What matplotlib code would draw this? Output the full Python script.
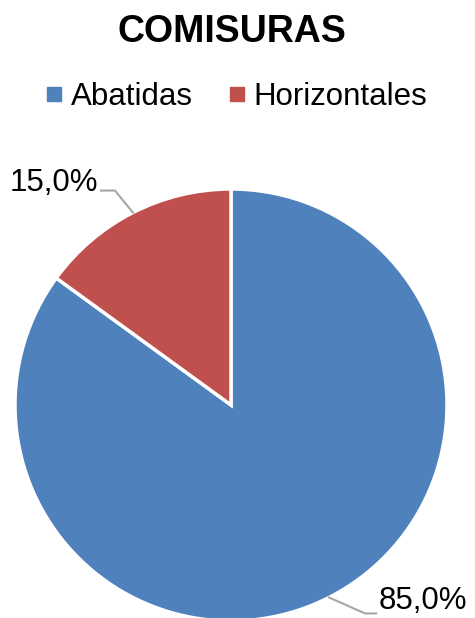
import numpy as np
import matplotlib.pyplot as plt
from matplotlib.lines import Line2D

plt.rcParams['font.family'] = ['Liberation Sans', 'DejaVu Sans']

# datos
categorias = ['Abatidas', 'Horizontales']
valores = [85.0, 15.0]
etiquetas = ['85,0%', '15,0%']
colores = ['#4F81BD', '#C0504D']

W, H = 475, 618
fig = plt.figure(figsize=(W / 100, H / 100), dpi=100)
ax = fig.add_axes([0, 0, 1, 1])

cx, cy, r = 231, 213, 216
wedges, _ = ax.pie(valores, colors=colores, startangle=90, counterclock=False,
                   center=(cx, cy), radius=r, frame=True,
                   wedgeprops=dict(edgecolor='white', linewidth=2.5))
ax.set_xlim(0, W)
ax.set_ylim(0, H)
ax.set_aspect('equal')
ax.axis('off')

# etiquetas con lineas guia
ajustes = {
    0: dict(codo=(36, -16), txt=(50, -16), dy=12, ha='left'),
    1: dict(codo=(-18, 22), txt=(-35, 22), dy=8, ha='right'),
}
for i, w in enumerate(wedges):
    ang = np.deg2rad((w.theta1 + w.theta2) / 2)
    px, py = cx + r * np.cos(ang), cy + r * np.sin(ang)
    a = ajustes[i]
    ex, ey = px + a['codo'][0], py + a['codo'][1]
    tx = px + a['txt'][0]
    lx = tx - 3 if a['ha'] == 'left' else tx + 3
    ax.plot([px, ex, lx], [py, ey, ey], color='#A6A6A6', lw=1.5,
            solid_joinstyle='miter', clip_on=False)
    ax.text(tx, ey + a['dy'], etiquetas[i], ha=a['ha'], va='center',
            fontsize=22.5, color='black')

fig.text(232 / W, 1 - 32 / H, 'COMISURAS', ha='center', va='center',
         fontsize=27, fontweight='bold')

handles = [Line2D([], [], marker='s', ls='', color=c, markersize=9.5)
           for c in colores]
fig.legend(handles, categorias, loc='center', bbox_to_anchor=(236 / W, 1 - 97 / H),
           ncol=2, frameon=False, fontsize=22.5, handlelength=0.6,
           handletextpad=0.25, columnspacing=1.1, borderpad=0)

fig.savefig('out.png', dpi=100)
